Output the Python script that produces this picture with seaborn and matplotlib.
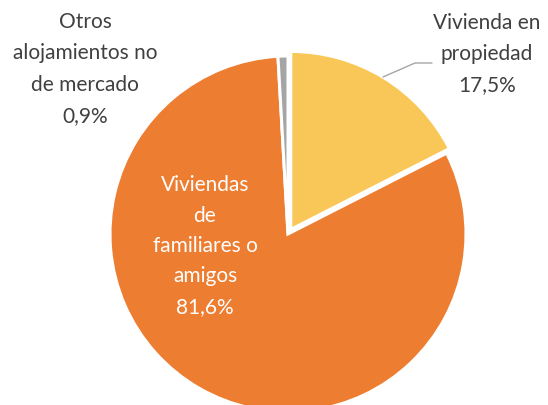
import matplotlib
matplotlib.use('Agg')
import matplotlib.pyplot as plt
import seaborn as sns

# data
categories = ['Vivienda en\npropiedad', 'Viviendas\nde\nfamiliares o\namigos', 'Otros\nalojamientos no\nde mercado']
shares = [17.5, 81.6, 0.9]
pct_labels = ['17,5%', '81,6%', '0,9%']
colors = ['#F9C758', '#ED7D31', '#A5A5A5']
explode = [0.03, 0.0, 0.0]

sns.set_theme(style='white')
plt.rcParams['font.family'] = ['Lato', 'DejaVu Sans']

W, H = 548, 405
fig = plt.figure(figsize=(W / 100, H / 100), dpi=100)

# pie centre and radius in pixels (top-left origin)
cx, cy, r = 288, 234, 178
ax = fig.add_axes([(cx - r) / W, (H - cy - r) / H, 2 * r / W, 2 * r / H])
ax.pie(shares, colors=colors, startangle=90, counterclock=False, explode=explode,
       radius=1, wedgeprops={'edgecolor': 'white', 'linewidth': 2.2})
ax.set_xlim(-1, 1)
ax.set_ylim(-1, 1)
ax.set_aspect('equal')
ax.axis('off')


def px(x, y):
    return x / W, 1 - y / H


# outer labels
fig.text(*px(487, 54), categories[0] + '\n' + pct_labels[0], ha='center', va='center',
         fontsize=15, color='#404040', linespacing=1.7)
fig.text(*px(85, 69), categories[2] + '\n' + pct_labels[2], ha='center', va='center',
         fontsize=15, color='#404040', linespacing=1.7)
# inner label
fig.text(*px(205, 246), categories[1] + '\n' + pct_labels[1], ha='center', va='center',
         fontsize=15, color='white', linespacing=1.65)

# leader line for the yellow slice
fig.add_artist(plt.Line2D([383 / W, 415 / W, 432 / W], [1 - 77 / H, 1 - 63 / H, 1 - 63 / H],
                          color='#A5A5A5', linewidth=1))

fig.savefig('out.png', dpi=100)
